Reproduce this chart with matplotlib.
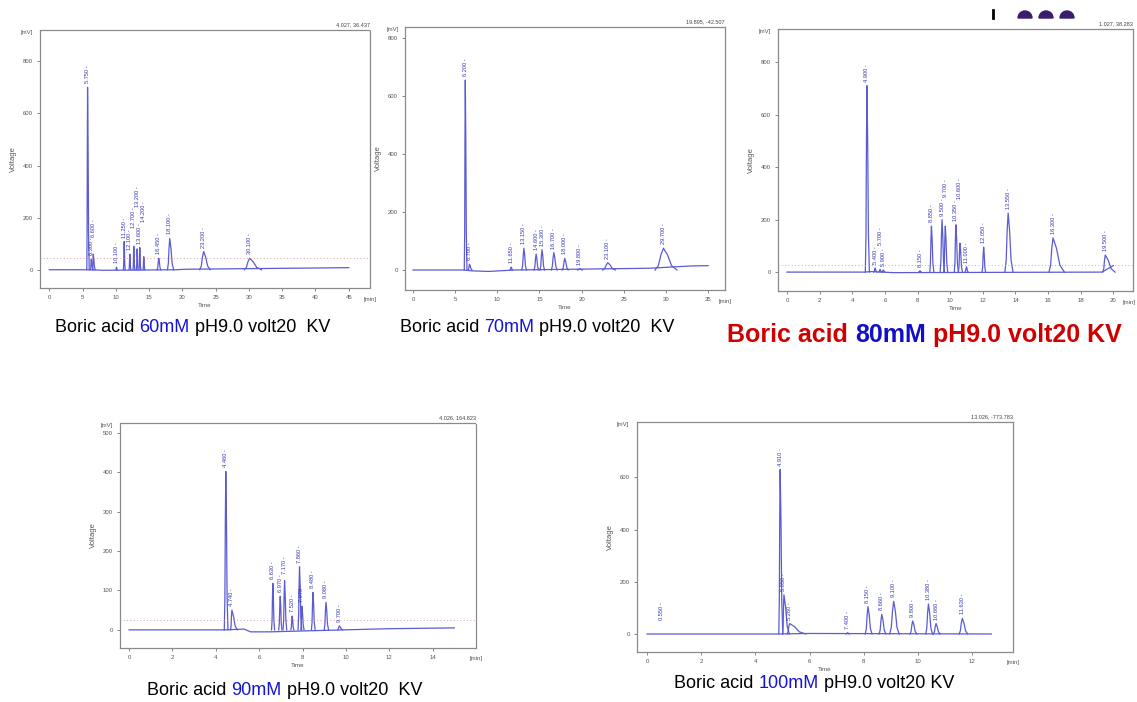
import matplotlib.pyplot as plt
from matplotlib.patches import Wedge

plt.rcParams['font.family'] = ['Liberation Sans', 'DejaVu Sans']

W, H = 1137, 702

# peak shape template (offsets in peak half-widths, relative height)
SHAPE_X = [-1.0, -0.6, -0.3, 0.0, 0.3, 0.6, 1.0]
SHAPE_Y = [0.0, 0.2, 0.7, 1.0, 0.7, 0.2, 0.0]

# ---- 60 mM ----
p60_t = [5.75, 6.3, 6.6, 10.1, 11.25, 12.1, 12.7, 13.2, 13.6, 14.2, 16.45, 18.1, 23.2, 30.1]
p60_h = [700, 40, 60, 10, 108, 60, 90, 80, 85, 50, 44, 120, 70, 44]
p60_wl = [0.12, 0.1, 0.1, 0.1, 0.12, 0.12, 0.12, 0.12, 0.12, 0.12, 0.25, 0.35, 0.6, 0.8]
p60_wr = [0.25, 0.3, 0.3, 0.1, 0.15, 0.15, 0.15, 0.15, 0.15, 0.15, 0.3, 0.6, 1.0, 1.8]
p60_base_t = [0, 5.6, 6.2, 8.0, 19.0, 20.5, 33, 45]
p60_base_v = [0, 0, 0, -2, 0, 2, 5, 8]

# ---- 70 mM ----
p70_t = [6.2, 6.7, 11.65, 13.15, 14.6, 15.3, 16.7, 18.0, 19.8, 23.1, 29.7]
p70_h = [655, 20, 10, 75, 55, 70, 60, 40, 5, 25, 75]
p70_wl = [0.12, 0.15, 0.15, 0.25, 0.25, 0.25, 0.3, 0.3, 0.3, 0.6, 1.0]
p70_wr = [0.2, 0.3, 0.15, 0.3, 0.3, 0.3, 0.4, 0.4, 0.3, 0.9, 1.6]
p70_base_t = [0, 6.0, 7.0, 9.0, 12.0, 20, 28, 33, 35]
p70_base_v = [0, 0, -3, -5, 0, 3, 6, 14, 15]

# ---- 80 mM ----
p80_t = [4.9, 5.4, 5.7, 5.9, 8.15, 8.85, 9.5, 9.7, 10.35, 10.6, 11.0, 12.05, 13.55, 16.3, 19.5]
p80_h = [710, 15, 10, 8, 5, 175, 200, 175, 180, 110, 20, 95, 225, 130, 65]
p80_wl = [0.1, 0.08, 0.08, 0.08, 0.08, 0.1, 0.12, 0.1, 0.1, 0.1, 0.1, 0.1, 0.2, 0.25, 0.15]
p80_wr = [0.15, 0.1, 0.1, 0.1, 0.08, 0.15, 0.15, 0.15, 0.15, 0.15, 0.1, 0.12, 0.3, 0.7, 0.6]
p80_base_t = [0, 4.7, 5.2, 6.5, 19.3, 20.0]
p80_base_v = [0, 0, 2, -2, 0, 25]

# ---- 90 mM ----
p90_t = [4.46, 4.74, 6.63, 6.97, 7.17, 7.52, 7.86, 7.97, 8.48, 9.08, 9.7]
p90_h = [402, 50, 118, 85, 125, 35, 160, 60, 95, 70, 10]
p90_wl = [0.07, 0.06, 0.06, 0.07, 0.07, 0.06, 0.07, 0.05, 0.07, 0.08, 0.08]
p90_wr = [0.1, 0.25, 0.08, 0.08, 0.1, 0.08, 0.1, 0.1, 0.1, 0.12, 0.15]
p90_base_t = [0, 4.4, 5.3, 5.6, 6.5, 9.9, 12, 15]
p90_base_v = [0, 0, 2, -5, -5, 0, 3, 5]

# ---- 100 mM ----
p100_t = [4.91, 5.05, 5.26, 7.4, 8.15, 8.66, 9.1, 9.8, 10.38, 10.66, 11.63]
p100_h = [630, 150, 40, 5, 105, 75, 125, 50, 115, 40, 60]
p100_wl = [0.05, 0.05, 0.1, 0.06, 0.1, 0.1, 0.15, 0.1, 0.1, 0.1, 0.12]
p100_wr = [0.1, 0.2, 0.6, 0.06, 0.15, 0.15, 0.2, 0.15, 0.15, 0.15, 0.2]
p100_base_t = [0, 4.8, 6.0, 12.7]
p100_base_v = [0, 0, 2, 0]
p100_extra_label = [0.55]

TRACE = '#5b5bd4'
LABEL = '#3434b8'
FRAME = '#8a8a8a'


def box(l, t, r, b):
    return [l / W, 1 - b / H, (r - l) / W, (b - t) / H]


def draw_panel(ax, times, heights, wl, wr, base_t, base_v, xlim, ylim, xticks, yticks,
               coord, ref_line=None, extra_labels=(), min_ha='center'):
    ax.set_xlim(*xlim)
    ax.set_ylim(*ylim)
    ax.plot(base_t, base_v, color=TRACE, lw=0.9)
    for t, h, a, b in zip(times, heights, wl, wr):
        xs = [t + s * (a if s < 0 else b) for s in SHAPE_X]
        ys = [h * f for f in SHAPE_Y]
        ax.plot(xs, ys, color=TRACE, lw=0.9)

    # peak labels: lift a label only as far as needed to clear earlier ones
    r = ax.figure.canvas.get_renderer()
    px_y = ax.get_position().height * H / (ylim[1] - ylim[0])
    gap = 4 / px_y
    placed = []
    pts = sorted(list(zip(times, heights)) + [(e, 40) for e in extra_labels])
    for t, h in pts:
        y0 = h + gap
        txt = ax.text(t, y0, f'{t:.3f} -', rotation=90, ha='center', va='bottom',
                      fontsize=4.1, color=LABEL)
        while True:
            e = txt.get_window_extent(r)
            hit = [p for p in placed
                   if p.x0 < e.x1 and e.x0 < p.x1 and p.y0 < e.y1 and e.y0 < p.y1]
            if not hit:
                break
            top = max(p.y1 for p in hit)
            y0 += (top - e.y0 + 1) / px_y
            txt.set_y(y0)
        placed.append(txt.get_window_extent(r))

    if ref_line is not None:
        ax.axhline(ref_line, color='#e08080', lw=0.6, ls=(0, (1, 3)))
    ax.set_xticks(xticks)
    ax.set_yticks(yticks)
    ax.tick_params(labelsize=4.3, colors='#555555', length=2, width=0.5, pad=3)
    for s in ax.spines.values():
        s.set_color(FRAME)
        s.set_linestyle((0, (2, 1)))
        s.set_linewidth(0.9)
    ax.set_ylabel('Voltage', fontsize=5.5, color='#555555', labelpad=4)
    ax.set_xlabel('Time', fontsize=4.5, color='#555555', labelpad=2)
    ax.text(-0.02, 1.0, '[mV]', transform=ax.transAxes, ha='right', va='top',
            fontsize=4.3, color='#555555')
    xm = 1.0 if min_ha == 'center' else 1.008
    ax.text(xm, -0.035, '[min]', transform=ax.transAxes, ha=min_ha, va='top',
            fontsize=4.3, color='#555555')
    ax.text(1.0, 1.01, coord, transform=ax.transAxes, ha='right', va='bottom',
            fontsize=4.0, color='#444444')


def caption(ov, x, y, parts, size, weight='normal'):
    prev = ov.text(x, y, parts[0][0], color=parts[0][1], fontsize=size,
                   fontweight=weight, ha='left', va='bottom')
    for txt, col in parts[1:]:
        prev = ov.annotate(txt, xy=(1, 0), xycoords=prev, color=col, fontsize=size,
                           fontweight=weight, ha='left', va='bottom')


fig = plt.figure(figsize=(W / 100, H / 100), dpi=100)

ax1 = fig.add_axes(box(40, 30, 370, 288))
draw_panel(ax1, p60_t, p60_h, p60_wl, p60_wr, p60_base_t, p60_base_v,
           (-1.4, 48.2), (-70, 920), range(0, 46, 5), range(0, 801, 200),
           '4.027, 36.437', ref_line=44)

ax2 = fig.add_axes(box(405, 27, 725, 290))
draw_panel(ax2, p70_t, p70_h, p70_wl, p70_wr, p70_base_t, p70_base_v,
           (-0.95, 37.0), (-69, 838), range(0, 36, 5), range(0, 801, 200),
           '19.895, -42.507')

ax3 = fig.add_axes(box(778, 29, 1133, 291))
draw_panel(ax3, p80_t, p80_h, p80_wl, p80_wr, p80_base_t, p80_base_v,
           (-0.55, 21.2), (-72, 926), range(0, 21, 2), range(0, 801, 200),
           '1.027, 38.283', ref_line=28, min_ha='right')

ax4 = fig.add_axes(box(120, 423, 476, 648))
draw_panel(ax4, p90_t, p90_h, p90_wl, p90_wr, p90_base_t, p90_base_v,
           (-0.42, 16.0), (-46, 525), range(0, 15, 2), range(0, 501, 100),
           '4.026, 164.823', ref_line=25)

ax5 = fig.add_axes(box(637, 422, 1013, 652))
draw_panel(ax5, p100_t, p100_h, p100_wl, p100_wr, p100_base_t, p100_base_v,
           (-0.37, 13.5), (-69, 812), range(0, 13, 2), range(0, 601, 200),
           '13.026, -773.783', extra_labels=p100_extra_label)

# overlay in pixel coordinates for captions and decorations
ov = fig.add_axes([0, 0, 1, 1])
ov.set_xlim(0, W)
ov.set_ylim(H, 0)
ov.axis('off')

BLUE = '#1414d2'
caption(ov, 55, 336, [('Boric acid ', 'black'), ('60mM', BLUE), (' pH9.0 volt20  KV', 'black')], 13)
caption(ov, 400, 336, [('Boric acid ', 'black'), ('70mM', BLUE), (' pH9.0 volt20  KV', 'black')], 13)
caption(ov, 727, 347, [('Boric acid ', '#d00000'), ('80mM', '#1010c8'), (' pH9.0 volt20 KV', '#d00000')],
        18, weight='bold')
caption(ov, 147, 699, [('Boric acid ', 'black'), ('90mM', BLUE), (' pH9.0 volt20  KV', 'black')], 13)
caption(ov, 674, 692, [('Boric acid ', 'black'), ('100mM', BLUE), (' pH9.0 volt20 KV', 'black')], 13)

ov.plot([993, 993], [10, 18], color='black', lw=2)
for cx in [1025, 1046, 1067]:
    ov.add_patch(Wedge((cx, 18), 7, 180, 360, color='#3b1d6e'))

fig.savefig('out.png', dpi=100)
